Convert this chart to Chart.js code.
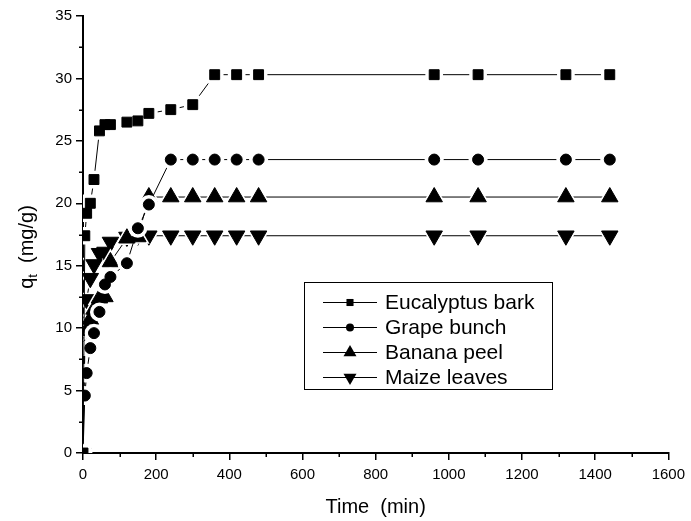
<!DOCTYPE html>
<html>
<head>
<meta charset="utf-8">
<script src="https://cdn.jsdelivr.net/npm/chart.js@4.4.1/dist/chart.umd.min.js"></script>
<style>
  body { margin: 0; background: #fff; }
  canvas { display: block; }
</style>
</head>
<body>
<canvas id="kinetics" width="691" height="521"></canvas>
<script>
// contact time (min)
const times = [0, 5, 10, 20, 30, 45, 60, 75, 120, 150, 180, 240, 300, 360, 420, 480, 960, 1080, 1320, 1440];

// qt (mg/g) for each adsorbent
const eucalyptusBark = [0, 17.4, 19.2, 20.0, 21.9, 25.8, 26.3, 26.3, 26.5, 26.6, 27.2, 27.5, 27.9, 30.3, 30.3, 30.3, 30.3, 30.3, 30.3, 30.3];
const grapeBunch = [0, 4.6, 6.4, 8.4, 9.6, 11.3, 13.5, 14.1, 15.2, 18.0, 19.9, 23.5, 23.5, 23.5, 23.5, 23.5, 23.5, 23.5, 23.5, 23.5];
const bananaPeel = [0, 8.3, 9.8, 10.7, 11.5, 12.4, 12.5, 15.3, 17.2, 17.3, 20.5, 20.5, 20.5, 20.5, 20.5, 20.5, 20.5, 20.5, 20.5, 20.5];
const maizeLeaves = [0, 10.5, 12.3, 14.0, 15.1, 16.0, 16.1, 16.9, 17.3, 17.4, 17.4, 17.4, 17.4, 17.4, 17.4, 17.4, 17.4, 17.4, 17.4, 17.4];

const seriesNames = ['Eucalyptus bark', 'Grape bunch', 'Banana peel', 'Maize leaves'];

const xTicks = [0, 200, 400, 600, 800, 1000, 1200, 1400, 1600];
const yTicks = [0, 5, 10, 15, 20, 25, 30, 35];

const FONT = '"Liberation Sans", Arial, sans-serif';

function toPoints(ys) {
  return times.map((t, i) => ({ x: t, y: ys[i] }));
}

function series(label, ys, style, radius, rotation) {
  return {
    label: label,
    data: toPoints(ys),
    borderColor: '#000',
    borderWidth: 1,
    backgroundColor: '#000',
    pointStyle: style,
    pointRadius: radius,
    pointRotation: rotation || 0,
    pointBackgroundColor: '#000',
    pointBorderColor: '#000',
    pointBorderWidth: 1,
    tension: 0,
    // legend marker size
    legendRadius: { rect: 5, circle: 4, triangle: 7.5 }[style]
  };
}

// white gap around each marker so the connecting lines stop short of it
const markerGap = {
  id: 'markerGap',
  afterDatasetDraw(chart, args) {
    const ctx = chart.ctx;
    const area = chart.chartArea;
    const extra = { rect: 5.5, circle: 4, triangle: 4 };
    ctx.save();
    ctx.beginPath();
    ctx.rect(area.left, area.top, area.right - area.left, area.bottom - area.top);
    ctx.clip();
    ctx.fillStyle = '#fff';
    args.meta.data.forEach(pt => {
      const o = pt.options;
      Chart.helpers.drawPoint(ctx, {
        pointStyle: o.pointStyle,
        rotation: o.rotation,
        radius: o.radius + extra[o.pointStyle],
        borderWidth: 0
      }, pt.x, pt.y);
    });
    args.meta.data.forEach(pt => pt.draw(ctx, area));
    ctx.restore();
  }
};

// minor ticks halfway between the labelled ones
const minorTicks = {
  id: 'minorTicks',
  afterDraw(chart) {
    const ctx = chart.ctx;
    const xs = chart.scales.x, ys = chart.scales.y;
    ctx.save();
    ctx.strokeStyle = '#000';
    ctx.lineWidth = 1.5;
    ctx.beginPath();
    for (let i = 0; i < xTicks.length - 1; i++) {
      const px = Math.round(xs.getPixelForValue((xTicks[i] + xTicks[i + 1]) / 2)) + 0.25;
      ctx.moveTo(px, ys.bottom);
      ctx.lineTo(px, ys.bottom + 4);
    }
    for (let i = 0; i < yTicks.length - 1; i++) {
      const py = Math.round(ys.getPixelForValue((yTicks[i] + yTicks[i + 1]) / 2)) + 0.25;
      ctx.moveTo(xs.left, py);
      ctx.lineTo(xs.left - 4, py);
    }
    ctx.stroke();
    ctx.restore();
  }
};

// y title with subscript t, and the boxed legend inside the plot
const annotations = {
  id: 'annotations',
  afterDraw(chart) {
    const ctx = chart.ctx;
    ctx.save();
    ctx.fillStyle = '#000';
    ctx.textBaseline = 'middle';

    // q_t  (mg/g)
    ctx.save();
    ctx.translate(27, 247);
    ctx.rotate(-Math.PI / 2);
    ctx.font = '20px ' + FONT;
    const wq = ctx.measureText('q').width;
    const rest = '  (mg/g)';
    const wr = ctx.measureText(rest).width;
    ctx.font = '13px ' + FONT;
    const wt = ctx.measureText('t').width;
    let x0 = -(wq + wt + wr) / 2;
    ctx.font = '20px ' + FONT;
    ctx.textAlign = 'left';
    ctx.fillText('q', x0, 0);
    ctx.font = '13px ' + FONT;
    ctx.fillText('t', x0 + wq, 6);
    ctx.font = '20px ' + FONT;
    ctx.fillText(rest, x0 + wq + wt, 0);
    ctx.restore();

    // legend
    const box = { left: 304.5, top: 282.5, right: 552.5, bottom: 389.5 };
    ctx.strokeStyle = '#000';
    ctx.lineWidth = 1;
    ctx.strokeRect(box.left, box.top, box.right - box.left, box.bottom - box.top);
    ctx.font = '21px ' + FONT;
    ctx.textAlign = 'left';
    chart.data.datasets.forEach((ds, i) => {
      const y = 302.5 + i * 25;
      ctx.beginPath();
      ctx.moveTo(323, y);
      ctx.lineTo(377, y);
      ctx.stroke();
      Chart.helpers.drawPoint(ctx, {
        pointStyle: ds.pointStyle,
        rotation: ds.pointRotation,
        radius: ds.legendRadius,
        borderWidth: 0
      }, 350, y);
      ctx.fillText(ds.label, 385, y + 1);
    });
    ctx.restore();
  }
};

const tickFont = { family: FONT, size: 15 };

new Chart(document.getElementById('kinetics'), {
  type: 'line',
  data: {
    datasets: [
      series(seriesNames[0], eucalyptusBark, 'rect', 7),
      series(seriesNames[1], grapeBunch, 'circle', 5.5),
      series(seriesNames[2], bananaPeel, 'triangle', 9.5),
      series(seriesNames[3], maizeLeaves, 'triangle', 9.5, 180)
    ]
  },
  options: {
    responsive: false,
    animation: false,
    events: [],
    devicePixelRatio: 1,
    layout: { padding: { top: 16, right: 22, bottom: 2, left: 0 } },
    plugins: {
      legend: { display: false },
      tooltip: { enabled: false }
    },
    scales: {
      x: {
        type: 'linear',
        min: 0,
        max: 1600,
        afterBuildTicks: s => { s.ticks = xTicks.map(v => ({ value: v })); },
        afterFit: s => { s.height = 66; },
        grid: { drawOnChartArea: false, drawTicks: true, tickLength: 7, color: '#000', lineWidth: 1.5 },
        border: { color: '#000', width: 2 },
        ticks: { color: '#000', font: tickFont, padding: 6, maxRotation: 0, autoSkip: false, callback: v => String(v) },
        title: {
          display: true,
          text: 'Time  (min)',
          color: '#000',
          font: { family: FONT, size: 20 },
          padding: { top: 0, bottom: 0 }
        }
      },
      y: {
        type: 'linear',
        min: 0,
        max: 35,
        afterBuildTicks: s => { s.ticks = yTicks.map(v => ({ value: v })); },
        afterFit: s => { s.width = 83; },
        grid: { drawOnChartArea: false, drawTicks: true, tickLength: 7, color: '#000', lineWidth: 1.5 },
        border: { color: '#000', width: 2 },
        ticks: { color: '#000', font: tickFont, padding: 4, autoSkip: false, callback: v => String(v) }
      }
    }
  },
  plugins: [markerGap, minorTicks, annotations]
});
</script>
</body>
</html>
